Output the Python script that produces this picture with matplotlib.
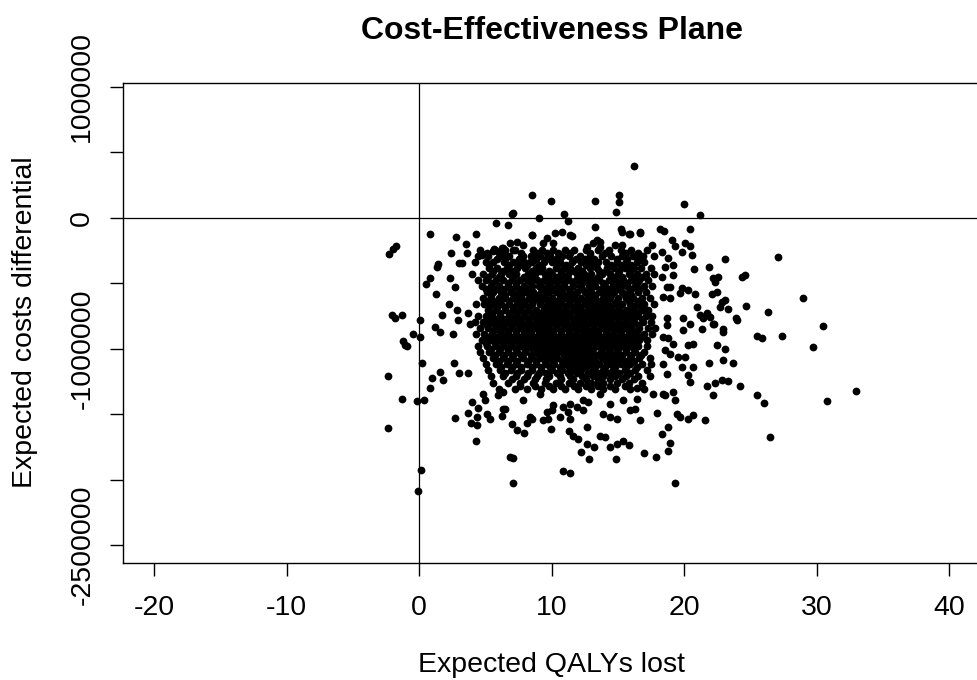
import matplotlib
matplotlib.use("Agg")
import matplotlib.pyplot as plt
from matplotlib.ticker import FixedLocator, FixedFormatter

plt.rcParams['font.family'] = ['Liberation Sans', 'DejaVu Sans']
plt.rcParams['axes.unicode_minus'] = False

# ---- simulations around the edge of the cloud (read one by one) ----
qaly_outer = [
    16.2, 8.5, 9.95, 13.3, 15.05, 15.05, 14.85, 7.1, 6.97, 9.0,
    10.9, 11.2, 5.8, 6.7, 13.3, 0.8, 2.8, 4.3, 8.5, 15.2,
    15.85, 16.65, 18.2, 18.5, -1.76, -1.96, -2.29, 3.55, 3.58, 2.37,
    4.73, 5.64, 6.26, 6.4, 1.43, 1.31, 2.97, 3.2, 0.8, 0.48,
    2.3, 2.7, 1.26, 2.24, -2.04, -1.28, -1.83, 0.05, 1.69, 2.82,
    2.95, 1.18, 1.56, 2.52, -0.45, 0.05, -1.2, -1.08, 3.7, 3.83,
    -0.95, 0.23, -2.34, 0.94, 0.8, 1.6, 1.8, 2.62, 3.0, 3.7,
    -1.33, -0.2, 0.35, 2.7, -2.34, 0.13, -0.08, 3.7, 3.95, 4.45,
    3.9, 4.33, 4.3, 4.83, 4.96, 5.09, 5.34, 5.96, 6.22, 6.47,
    6.85, 7.1, 7.05, 6.97, 7.35, 7.9, 8.1, 8.5, 9.92, 9.36,
    9.74, 9.99, 10.1, 10.87, 11.37, 11.3, 11.6, 12.0, 12.18, 12.63,
    13.2, 12.83, 12.63, 10.87, 11.25, 11.37, 11.88, 12.38, 12.75, 13.64,
    14.02, 14.4, 14.9, 15.4, 15.85, 14.85, 16.96, 17.86, 13.89, 14.39,
    14.9, 15.9, 16.28, 16.66, 16.4, 16.4, 17.92, 17.66, 18.42, 18.75,
    18.3, 18.75, 18.42, 18.67, 19.98, 21.2, 20.4, 19.1, 19.3, 20.07,
    20.45, 20.56, 19.8, 23.1, 27.1, 21.89, 20.75, 22.19, 22.57, 22.32,
    24.33, 24.58, 22.07, 22.45, 22.82, 23.07, 22.69, 23.32, 24.66, 23.9,
    26.34, 29.0, 30.47, 20.94, 21.18, 21.69, 21.94, 21.43, 22.24, 22.94,
    18.3, 18.54, 18.8, 19.17, 18.3, 19.17, 18.67, 18.92, 19.8, 20.3,
    20.8, 19.67, 18.92, 18.42, 18.67, 19.92, 20.43, 18.67, 29.7, 33.0,
    30.8, 27.35, 25.46, 25.84, 24.2, 25.46, 26.0, 26.45, 21.56, 19.3,
    18.9, 19.43, 19.67, 20.3, 20.68, 19.17, 19.3, 18.54, 21.69, 22.19,
    22.32, 22.82, 23.32, 21.89, 22.94, 23.7, 20.3, 20.43, 19.8, 20.68,
    22.45, 23.07, 22.94, 22.19, 21.31, 20.3, 20.68, 19.92, 18.42, 18.8,
    19.17, 18.54, 18.92, 19.55, 20.05, 23.95, 6.34, 7.85, 9.11, 11.37,
    12.38, 4.33, 6.34, 8.36, 9.62, 10.62, 13.39, 13.64, 14.39, 15.4,
    8.48, 10.24, 10.75, 11.37, 6.84, 7.35, 7.85, 4.71, 5.58, 6.34,
    6.47, 7.09, 9.62, 10.11, 8.86, 8.36, 15.28, 15.9, 16.66, 13.13,
    13.64, 14.77, 15.28, 17.54, 11.5, 13.39, 12.63, 13.64, 9.62, 9.36,
]
cost_outer = [
    398000, 172000, 126000, 128000, 174000, 118000, 46000, 38000, 26000, 0,
    28000, -23000, -43000, -54000, -69000, -123000, -148000, -123000, -135000, -89000,
    -123000, -110000, -84000, -100000, -214000, -242000, -280000, -201000, -268000, -268000,
    -283000, -242000, -230000, -280000, -355000, -380000, -349000, -349000, -464000, -510000,
    -464000, -528000, -587000, -656000, -743000, -743000, -766000, -783000, -745000, -707000,
    -783000, -835000, -873000, -885000, -891000, -911000, -944000, -975000, -732000, -809000,
    -982000, -1110000, -1210000, -1222000, -1299000, -1179000, -1243000, -1107000, -1187000, -1187000,
    -1383000, -1404000, -1391000, -1528000, -1608000, -1927000, -2085000, -1493000, -1409000, -1452000,
    -1570000, -1587000, -1702000, -1345000, -1396000, -1498000, -1536000, -1358000, -1511000, -1459000,
    -1825000, -1835000, -2029000, -1574000, -1620000, -1643000, -1570000, -1536000, -1613000, -1549000,
    -1536000, -1472000, -1427000, -1932000, -1950000, -1626000, -1664000, -1689000, -1786000, -1727000,
    -1753000, -1845000, -1600000, -1447000, -1485000, -1536000, -1447000, -1472000, -1409000, -1664000,
    -1677000, -1753000, -1727000, -1702000, -1740000, -1845000, -1799000, -1825000, -1498000, -1524000,
    -1536000, -1472000, -1459000, -1549000, -1299000, -1383000, -1493000, -1345000, -1345000, -1600000,
    -1651000, -1779000, -1115000, -1191000, 103000, 21000, -89000, -171000, -217000, -191000,
    -217000, -286000, -260000, -316000, -303000, -375000, -395000, -464000, -452000, -490000,
    -452000, -439000, -584000, -567000, -643000, -630000, -681000, -701000, -676000, -770000,
    -724000, -610000, -827000, -686000, -745000, -732000, -758000, -770000, -809000, -847000,
    -260000, -375000, -311000, -362000, -452000, -439000, -528000, -528000, -541000, -554000,
    -587000, -579000, -617000, -605000, -770000, -770000, -809000, -822000, -988000, -1325000,
    -1404000, -906000, -906000, -919000, -1289000, -1358000, -1414000, -1677000, -1549000, -2029000,
    -1723000, -1498000, -1524000, -1536000, -1505000, -1332000, -1396000, -1358000, -1289000, -1358000,
    -1263000, -1243000, -1248000, -1110000, -1090000, -1110000, -1204000, -1256000, -1141000, -1141000,
    -975000, -1000000, -873000, -816000, -847000, -975000, -962000, -860000, -911000, -923000,
    -962000, -1013000, -1038000, -1064000, -1064000, -783000, -1332000, -1396000, -1345000, -1421000,
    -1396000, -1524000, -1459000, -1524000, -1485000, -1524000, -1268000, -1345000, -1421000, -1396000,
    -133000, -119000, -107000, -133000, -196000, -184000, -209000, -278000, -253000, -234000,
    -286000, -247000, -273000, -196000, -299000, -337000, -107000, -125000, -115000, -196000,
    -184000, -209000, -209000, -209000, -140000, -171000, -222000, -222000, -158000, -196000,
]

# ---- dense middle of the cloud, read row by row ----
row_cost = [
    -247000, -293000, -339000, -385000, -431000, -477000, -523000, -569000,
    -615000, -661000, -707000, -753000, -799000, -845000, -891000, -937000,
    -983000, -1029000, -1075000, -1121000, -1167000, -1213000, -1259000, -1305000,
]
row_qaly = [
    [4.6, 5.7, 6.5, 7.2, 8.6, 9.3, 10.1, 11.0, 11.7, 12.6, 13.5, 14.3, 15.2, 16.0, 17.2],
    [4.4, 5.2, 6.1, 6.8, 7.8, 8.4, 9.1, 9.9, 10.8, 11.3, 12.1, 12.9, 13.8, 14.5, 15.3, 16.1, 16.9, 17.7],
    [4.2, 5.0, 5.6, 6.4, 7.1, 7.9, 8.5, 9.4, 10.0, 10.6, 11.5, 12.2, 12.7, 13.5, 14.1, 14.9, 15.6, 16.4, 17.0],
    [5.3, 5.9, 6.6, 7.4, 8.0, 8.8, 9.3, 10.3, 10.9, 11.4, 12.0, 12.9, 13.4, 14.2, 14.7, 15.5, 16.2, 16.7, 17.5],
    [4.0, 4.8, 5.5, 6.2, 6.8, 7.3, 8.2, 8.7, 9.5, 10.0, 10.7, 11.2, 11.9, 12.4, 13.0, 13.8, 14.4, 15.0, 15.8, 16.4, 17.1, 17.7],
    [4.4, 5.0, 5.8, 6.3, 7.0, 7.6, 8.1, 8.9, 9.4, 10.2, 10.6, 11.3, 11.8, 12.6, 13.1, 13.6, 14.3, 14.8, 15.4, 16.0, 16.6, 17.3],
    [4.7, 5.4, 6.0, 6.7, 7.3, 7.9, 8.5, 9.0, 9.7, 10.4, 10.9, 11.6, 12.1, 12.8, 13.3, 14.0, 14.6, 15.2, 15.7, 16.3, 17.0, 17.6],
    [5.1, 5.6, 6.2, 6.9, 7.5, 8.0, 8.6, 9.2, 9.8, 10.3, 10.8, 11.4, 11.9, 12.5, 13.0, 13.6, 14.1, 14.7, 15.3, 15.8, 16.5, 17.1],
    [4.8, 5.4, 6.0, 6.5, 7.1, 7.7, 8.3, 8.8, 9.5, 10.0, 10.6, 11.1, 11.7, 12.2, 12.8, 13.3, 13.9, 14.4, 15.0, 15.6, 16.1, 16.8, 17.4],
    [4.3, 4.9, 5.6, 6.2, 6.8, 7.4, 7.9, 8.5, 9.1, 9.7, 10.2, 10.8, 11.3, 11.9, 12.5, 13.0, 13.6, 14.2, 14.7, 15.3, 15.9, 16.4, 17.0, 17.7],
    [5.2, 5.8, 6.5, 7.1, 7.6, 8.2, 8.8, 9.4, 9.9, 10.5, 11.0, 11.6, 12.2, 12.7, 13.3, 13.9, 14.5, 15.0, 15.6, 16.2, 16.8, 17.3],
    [4.4, 5.0, 5.5, 6.1, 6.8, 7.3, 7.9, 8.5, 9.0, 9.6, 10.2, 10.7, 11.3, 11.9, 12.4, 13.0, 13.6, 14.1, 14.7, 15.3, 15.8, 16.4, 17.1, 17.6],
    [4.2, 4.8, 5.4, 6.0, 6.6, 7.2, 7.7, 8.3, 8.9, 9.4, 10.0, 10.6, 11.1, 11.7, 12.3, 12.8, 13.4, 14.0, 14.5, 15.1, 15.6, 16.2, 16.9, 17.5],
    [4.6, 5.2, 5.9, 6.4, 7.0, 7.6, 8.1, 8.7, 9.3, 9.8, 10.4, 11.0, 11.5, 12.1, 12.6, 13.2, 13.8, 14.3, 14.9, 15.5, 16.0, 16.6, 17.3, 17.8],
    [4.3, 4.9, 5.5, 6.2, 6.7, 7.3, 7.9, 8.4, 9.0, 9.6, 10.1, 10.7, 11.3, 11.8, 12.4, 13.0, 13.5, 14.1, 14.6, 15.2, 15.8, 16.3, 17.0, 17.6],
    [4.7, 5.4, 6.0, 6.6, 7.2, 7.8, 8.3, 8.9, 9.5, 10.1, 10.6, 11.2, 11.8, 12.3, 12.9, 13.5, 14.0, 14.7, 15.3, 15.9, 16.6, 17.2],
    [4.4, 5.1, 5.8, 6.4, 7.0, 7.7, 8.2, 8.8, 9.4, 10.0, 10.5, 11.1, 11.7, 12.3, 12.8, 13.4, 14.1, 14.6, 15.3, 15.9, 16.5, 17.2],
    [4.6, 5.3, 6.0, 6.7, 7.4, 8.0, 8.7, 9.3, 9.9, 10.5, 11.2, 11.8, 12.4, 13.0, 13.7, 14.3, 14.9, 15.6, 16.3, 17.0],
    [4.8, 5.6, 6.3, 7.0, 7.8, 8.5, 9.1, 9.8, 10.4, 11.1, 11.7, 12.4, 13.0, 13.8, 14.5, 15.1, 15.9, 16.6, 17.4],
    [5.0, 5.8, 6.6, 7.3, 8.1, 8.8, 9.6, 10.2, 10.9, 11.6, 12.3, 13.0, 13.6, 14.4, 15.2, 15.9, 16.8, 17.5],
    [5.2, 6.1, 6.9, 7.7, 8.5, 9.2, 10.0, 10.8, 11.5, 12.2, 13.1, 13.9, 14.6, 15.5, 16.3, 17.2],
    [5.4, 6.3, 7.3, 8.1, 8.9, 9.8, 10.6, 11.4, 12.3, 13.1, 13.9, 14.8, 15.6, 16.5, 17.4],
    [5.6, 6.7, 7.6, 8.6, 9.5, 10.3, 11.3, 12.1, 13.0, 13.9, 14.9, 15.8, 16.8],
    [6.0, 7.2, 8.1, 9.2, 10.1, 11.0, 12.0, 13.0, 13.9, 14.8, 15.9, 17.0],
]

# rows lying between the ones above (fill the solid middle)
mid_cost = [
    -270000, -316000, -362000, -408000, -454000, -500000, -546000, -592000,
    -638000, -684000, -730000, -776000, -822000, -868000, -914000, -960000,
    -1006000, -1052000, -1098000, -1144000, -1190000, -1236000, -1282000,
]
mid_qaly = [
    [5.1, 6.0, 7.7, 8.9, 10.5, 11.4, 12.9, 14.0, 15.6, 16.5],
    [5.9, 6.5, 7.5, 8.8, 9.6, 10.3, 11.8, 12.5, 13.2, 14.9, 15.7, 16.6],
    [5.3, 6.8, 7.5, 8.1, 9.0, 10.4, 11.1, 12.6, 13.2, 14.5, 15.2, 16.0],
    [5.6, 6.3, 7.0, 8.5, 9.1, 9.8, 10.7, 11.7, 12.3, 13.6, 14.1, 15.1, 15.9],
    [5.2, 6.0, 7.1, 7.9, 8.5, 9.8, 10.4, 11.1, 12.1, 12.8, 13.5, 14.6, 15.3, 16.1, 16.8],
    [5.5, 6.7, 7.3, 8.4, 9.2, 9.9, 10.9, 11.6, 12.3, 13.0, 13.9, 14.6, 15.1, 15.7, 16.4],
    [5.0, 5.8, 6.4, 7.0, 7.7, 8.3, 9.4, 10.1, 10.6, 11.3, 12.3, 12.9, 13.7, 14.4, 15.0, 16.0, 16.6],
    [5.4, 6.5, 7.2, 7.7, 8.4, 9.0, 9.5, 10.6, 11.2, 11.7, 12.7, 13.3, 14.0, 14.5, 15.5, 16.0],
    [5.1, 5.9, 6.8, 7.4, 8.0, 8.6, 9.2, 9.8, 10.4, 11.4, 12.0, 12.5, 13.1, 13.7, 14.2, 14.9, 15.8, 16.5],
    [5.3, 5.9, 6.5, 7.1, 7.7, 8.3, 9.4, 10.0, 10.5, 11.1, 11.7, 12.1, 12.8, 13.4, 14.0, 14.5, 15.1, 16.0, 16.7],
    [5.5, 6.1, 6.8, 7.4, 8.0, 8.6, 9.1, 9.7, 10.3, 10.9, 11.4, 12.0, 12.6, 13.1, 13.7, 14.3, 14.9, 15.4, 16.0, 16.5],
    [5.2, 5.8, 6.4, 7.0, 7.6, 8.2, 8.8, 9.3, 9.9, 10.4, 11.0, 11.6, 12.1, 12.7, 13.3, 13.9, 14.4, 15.0, 15.6, 16.1, 16.8],
    [5.1, 5.7, 6.3, 6.9, 7.5, 8.0, 8.6, 9.2, 9.7, 10.3, 10.9, 11.4, 12.0, 12.6, 13.1, 13.7, 14.2, 14.8, 15.4, 15.9, 16.5],
    [5.6, 6.1, 6.7, 7.3, 7.9, 8.4, 9.0, 9.6, 10.1, 10.7, 11.3, 11.9, 12.4, 13.0, 13.5, 14.1, 14.7, 15.2, 15.8, 16.4],
    [5.2, 5.8, 6.5, 7.0, 7.6, 8.2, 8.7, 9.3, 9.9, 10.4, 11.0, 11.6, 12.1, 12.7, 13.3, 13.8, 14.4, 15.0, 15.5, 16.1, 16.7],
    [5.0, 5.7, 6.3, 6.9, 7.5, 8.1, 8.6, 9.2, 9.8, 10.3, 10.9, 11.5, 12.0, 12.6, 13.2, 13.8, 14.4, 15.0, 15.6, 16.2],
    [5.4, 6.1, 6.7, 7.3, 8.0, 8.5, 9.1, 9.7, 10.2, 10.8, 11.4, 12.0, 12.6, 13.1, 13.8, 14.4, 15.0, 15.6, 16.2],
    [5.7, 6.4, 7.1, 7.7, 8.4, 9.0, 9.6, 10.2, 10.9, 11.5, 12.1, 12.7, 13.4, 14.0, 14.6, 15.3, 16.0, 16.7],
    [6.0, 6.7, 7.4, 8.2, 8.8, 9.5, 10.1, 10.8, 11.4, 12.0, 12.7, 13.3, 14.1, 14.8, 15.5, 16.2],
    [6.2, 7.0, 7.7, 8.5, 9.2, 9.9, 10.6, 11.3, 11.9, 12.6, 13.3, 14.0, 14.8, 15.6, 16.4],
    [6.5, 7.4, 8.2, 9.0, 9.6, 10.4, 11.2, 11.9, 12.7, 13.5, 14.3, 15.1, 15.9],
    [7.0, 7.9, 8.7, 9.6, 10.7, 11.6, 12.6, 13.5, 14.4, 15.3, 16.2],
    [7.6, 8.7, 9.8, 10.7, 11.7, 12.6, 13.5, 14.4, 15.5],
]

x_ticks = [-20, -10, 0, 10, 20, 30, 40]
y_ticks = [1000000, 500000, 0, -500000, -1000000, -1500000, -2000000, -2500000]
y_tick_labels = ["1000000", "", "0", "", "-1000000", "", "", "-2500000"]

qaly = list(qaly_outer)
cost = list(cost_outer)
for c, row in zip(row_cost + mid_cost, row_qaly + mid_qaly):
    qaly += row
    cost += [c] * len(row)

fig = plt.figure(figsize=(9.78, 6.8), dpi=100)
ax = fig.add_axes([122.5 / 978, 117.3 / 680, 858.5 / 978, 479.7 / 680])

ax.plot(qaly, cost, 'o', color='black', ms=5.6, mec='none', zorder=3)
ax.axhline(0, color='black', lw=0.9, zorder=2)
ax.axvline(0, color='black', lw=0.9, zorder=2)

ax.set_xlim(-22.4, 42.4)
ax.set_ylim(-2635000, 1028000)

ax.xaxis.set_major_locator(FixedLocator(x_ticks))
ax.yaxis.set_major_locator(FixedLocator(y_ticks))
ax.yaxis.set_major_formatter(FixedFormatter(y_tick_labels))
for lbl in ax.get_yticklabels():
    lbl.set_rotation(90)
    lbl.set_va('center')

for s in ax.spines.values():
    s.set_linewidth(1.0)
    s.set_color('black')
ax.tick_params(direction='out', length=9.6, width=1.0, labelsize=20.5, colors='black')
ax.tick_params(axis='x', pad=13.5)
ax.tick_params(axis='y', pad=10)

fig.text(551.8 / 978, 1 - 39 / 680, "Cost-Effectiveness Plane", ha='center', va='baseline',
         fontsize=23, fontweight='bold')
fig.text(551.8 / 978, 1 - 665 / 680, "Expected QALYs lost", ha='center', va='center',
         fontsize=20.5)
fig.text(25 / 978, 1 - 322.5 / 680, "Expected costs differential", ha='center', va='center',
         rotation=90, fontsize=20.5)

fig.savefig("out.png", dpi=100)
